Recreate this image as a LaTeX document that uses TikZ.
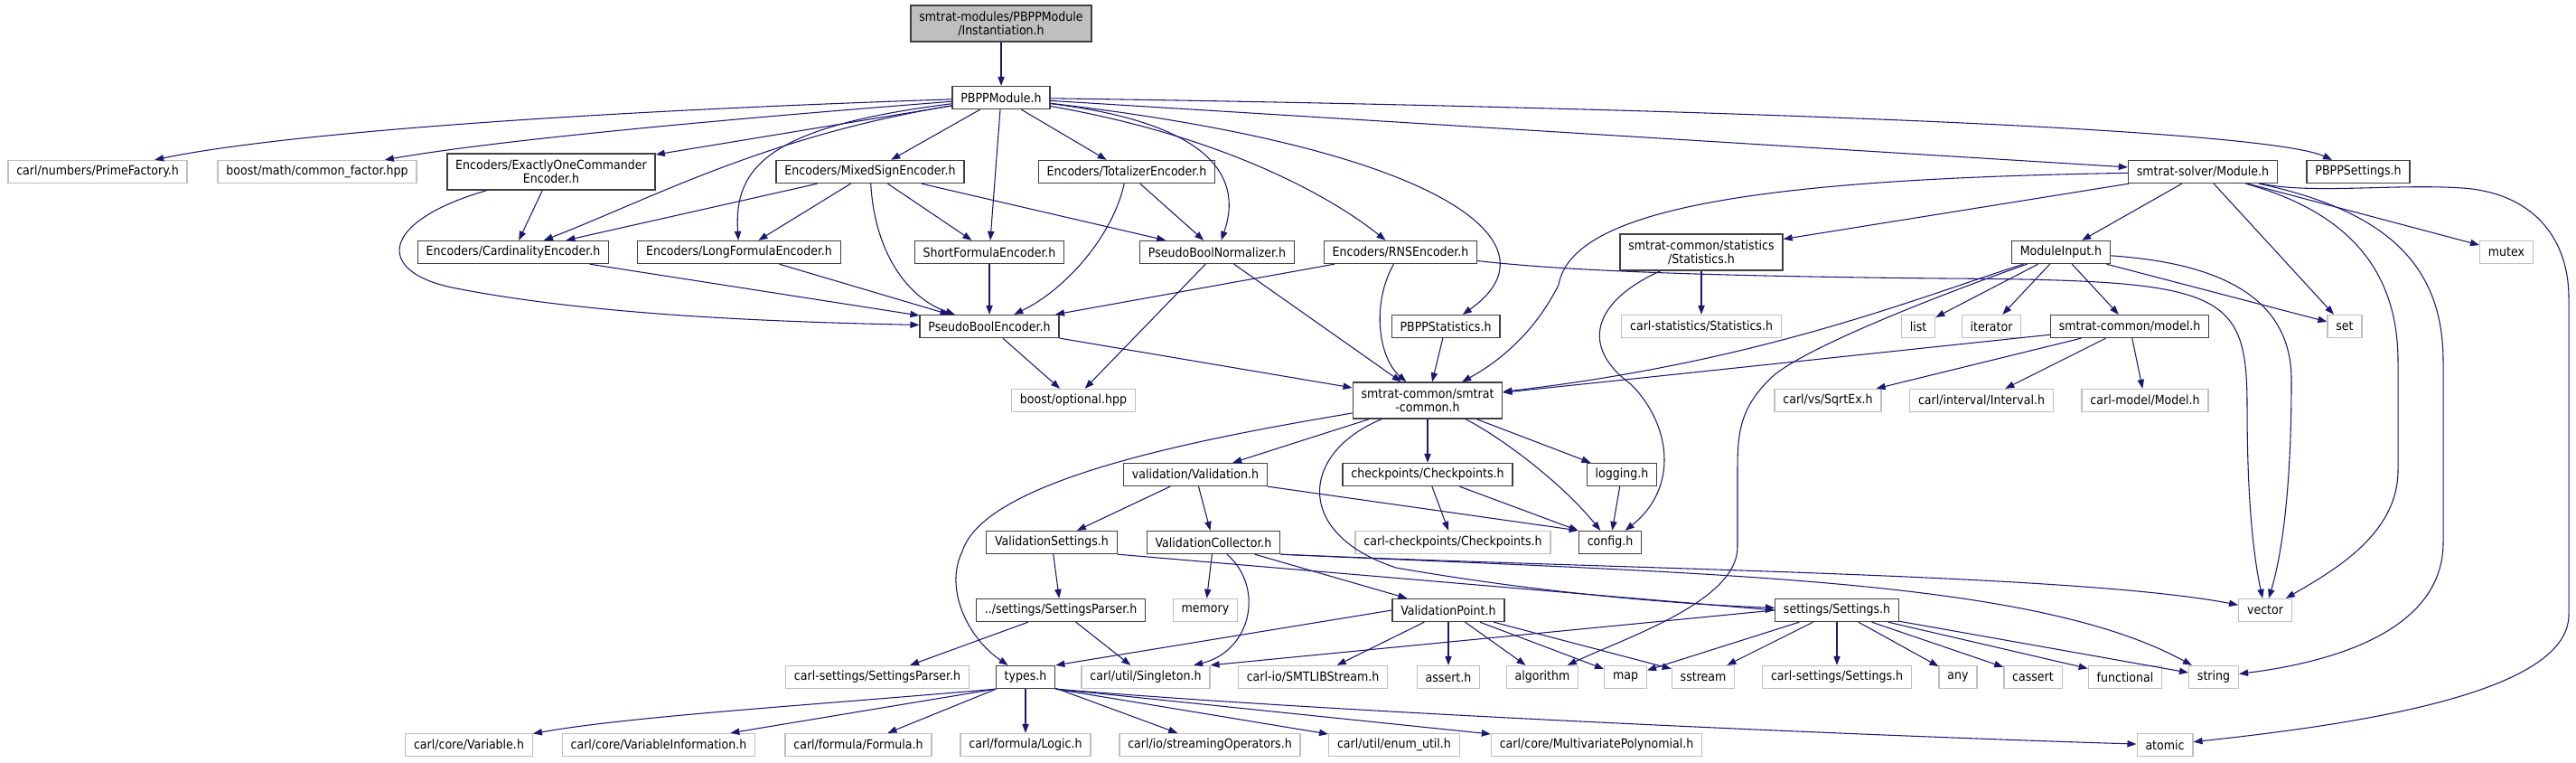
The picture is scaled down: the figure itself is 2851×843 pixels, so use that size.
\documentclass[tikz,border=0pt]{standalone}
\usepackage{fontspec}
\setmainfont{DejaVu Sans Condensed}
\usepackage{tikz}
\usetikzlibrary{arrows.meta}
\definecolor{edgeblue}{RGB}{25, 25, 112}
\definecolor{filedark}{RGB}{64, 64, 64}
\definecolor{filelight}{RGB}{191, 191, 191}
\definecolor{rootgray}{RGB}{191, 191, 191}

\begin{document}
\begin{tikzpicture}[
    x=0.75pt, y=-0.75pt,
    file/.style={draw=filedark, line width=1pt, fill=white, align=center, inner xsep=7pt, inner ysep=2pt, minimum height=18.75pt, font=\fontsize{10.5}{11.25}\selectfont},
    sysfile/.style={file, draw=filelight},
    rootfile/.style={file, fill=rootgray},
    twoline/.style={minimum height=30pt},
    inc/.style={-{Triangle[length=7.5pt, width=5.5pt]}, draw=edgeblue, line width=0.8pt},
]
\useasboundingbox (0,0) rectangle (2851,843);

% Root and module header
\node[rootfile, twoline] (inst) at (1108, 26) {smtrat-modules/PBPPModule\\/Instantiation.h};
\node[file] (pbpp) at (1108, 108) {PBPPModule.h};

% Row 1
\node[sysfile] (prime) at (108, 190) {carl/numbers/PrimeFactory.h};
\node[sysfile] (gcd) at (351, 190) {boost/math/common\_factor.hpp};
\node[file, twoline] (exone) at (610, 190) {Encoders/ExactlyOneCommander\\Encoder.h};
\node[file] (mixed) at (963, 190) {Encoders/MixedSignEncoder.h};
\node[file] (total) at (1247, 190) {Encoders/TotalizerEncoder.h};
\node[file] (module) at (2438, 190) {smtrat-solver/Module.h};
\node[file] (pbppset) at (2610, 190) {PBPPSettings.h};

% Row 2
\node[file] (card) at (568, 279) {Encoders/CardinalityEncoder.h};
\node[file] (longf) at (818, 279) {Encoders/LongFormulaEncoder.h};
\node[file] (shortf) at (1095, 279) {ShortFormulaEncoder.h};
\node[file] (norm) at (1347, 279) {PseudoBoolNormalizer.h};
\node[file] (rns) at (1550, 279) {Encoders/RNSEncoder.h};
\node[file, twoline] (stats) at (1883, 279) {smtrat-common/statistics\\/Statistics.h};
\node[file] (minput) at (2281, 279) {ModuleInput.h};
\node[sysfile] (mutex) at (2774, 279) {mutex};

% Row 3
\node[file] (pbenc) at (1095, 361) {PseudoBoolEncoder.h};
\node[file] (pbstat) at (1600, 361) {PBPPStatistics.h};
\node[sysfile] (carlstat) at (1883, 361) {carl-statistics/Statistics.h};
\node[sysfile] (list) at (2123, 361) {list};
\node[sysfile] (iter) at (2204, 361) {iterator};
\node[file] (model) at (2357, 361) {smtrat-common/model.h};
\node[sysfile] (set) at (2595, 361) {set};

% Row 4
\node[sysfile] (optional) at (1188, 443) {boost/optional.hpp};
\node[file, twoline] (common) at (1580, 443) {smtrat-common/smtrat\\-common.h};
\node[sysfile] (sqrtex) at (2023, 443) {carl/vs/SqrtEx.h};
\node[sysfile] (interval) at (2193, 443) {carl/interval/Interval.h};
\node[sysfile] (carlmodel) at (2374, 443) {carl-model/Model.h};

% Row 5
\node[file] (valid) at (1323, 525) {validation/Validation.h};
\node[file] (ckpt) at (1580, 525) {checkpoints/Checkpoints.h};
\node[file] (logging) at (1795, 525) {logging.h};

% Row 6
\node[file] (vsettings) at (1164, 600) {ValidationSettings.h};
\node[file] (vcoll) at (1343, 600) {ValidationCollector.h};
\node[sysfile] (carlckpt) at (1608, 600) {carl-checkpoints/Checkpoints.h};
\node[file] (config) at (1782, 600) {config.h};

% Row 7
\node[file] (sparser) at (1174, 675) {../settings/SettingsParser.h};
\node[sysfile] (memory) at (1334, 675) {memory};
\node[file] (vpoint) at (1603, 675) {ValidationPoint.h};
\node[file] (settings) at (2033, 675) {settings/Settings.h};
\node[sysfile] (vector) at (2507, 675) {vector};

% Row 8
\node[sysfile] (carlsparser) at (971, 749) {carl-settings/SettingsParser.h};
\node[file] (types) at (1135, 749) {types.h};
\node[sysfile] (singleton) at (1268, 749) {carl/util/Singleton.h};
\node[sysfile] (smtlib) at (1453, 749) {carl-io/SMTLIBStream.h};
\node[sysfile] (assert) at (1603, 749) {assert.h};
\node[sysfile] (algorithm) at (1707, 749) {algorithm};
\node[sysfile] (map) at (1799, 749) {map};
\node[sysfile] (sstream) at (1885, 749) {sstream};
\node[sysfile] (carlset) at (2033, 749) {carl-settings/Settings.h};
\node[sysfile] (any) at (2167, 749) {any};
\node[sysfile] (cassert) at (2250, 749) {cassert};
\node[sysfile] (functional) at (2352, 749) {functional};
\node[sysfile] (string) at (2450, 749) {string};

% Row 9
\node[sysfile] (variable) at (519, 824) {carl/core/Variable.h};
\node[sysfile] (varinfo) at (729, 824) {carl/core/VariableInformation.h};
\node[sysfile] (formula) at (950, 824) {carl/formula/Formula.h};
\node[sysfile] (logic) at (1135, 824) {carl/formula/Logic.h};
\node[sysfile] (streamops) at (1339, 824) {carl/io/streamingOperators.h};
\node[sysfile] (enumutil) at (1543, 824) {carl/util/enum\_util.h};
\node[sysfile] (mvpoly) at (1767, 824) {carl/core/MultivariatePolynomial.h};
\node[sysfile] (atomic) at (2396, 824) {atomic};

% Includes of the root
\draw[inc] (inst) -- (pbpp);

% Includes of PBPPModule.h
\draw[inc] (pbpp) .. controls (600,125) and (300,150) .. (prime);
\draw[inc] (pbpp) .. controls (800,132) and (550,155) .. (gcd);
\draw[inc] (pbpp) -- (exone);
\draw[inc] (pbpp) .. controls (850,150) and (720,220) .. (card);
\draw[inc] (pbpp) .. controls (850,140) and (812,185) .. (longf);
\draw[inc] (pbpp) -- (mixed);
\draw[inc] (pbpp) -- (shortf);
\draw[inc] (pbpp) -- (total);
\draw[inc] (pbpp) .. controls (1330,135) and (1378,190) .. (norm);
\draw[inc] (pbpp) .. controls (1350,150) and (1470,215) .. (rns);
\draw[inc] (pbpp) .. controls (1600,165) and (1730,270) .. (pbstat);
\draw[inc] (pbpp) -- (module);
\draw[inc] (pbpp) .. controls (1800,118) and (2500,140) .. (pbppset);

% Encoders
\draw[inc] (exone) -- (card);
\draw[inc] (exone) .. controls (420,245) and (415,300) .. (500,318) .. controls (650,348) and (850,356) .. (pbenc);
\draw[inc] (mixed) -- (card);
\draw[inc] (mixed) -- (longf);
\draw[inc] (mixed) .. controls (968,280) and (1005,330) .. (pbenc);
\draw[inc] (mixed) -- (shortf);
\draw[inc] (mixed) -- (norm);
\draw[inc] (total) .. controls (1232,260) and (1180,320) .. (pbenc);
\draw[inc] (total) -- (norm);
\draw[inc] (card) -- (pbenc);
\draw[inc] (longf) -- (pbenc);
\draw[inc] (shortf) -- (pbenc);
\draw[inc] (norm) -- (optional);
\draw[inc] (norm) -- (common);
\draw[inc] (rns) -- (pbenc);
\draw[inc] (rns) .. controls (1518,335) and (1525,395) .. (common);
\draw[inc] (rns) .. controls (1720,298) and (1850,305) .. (2150,308) .. controls (2460,310) and (2487,320) .. (2487,450) .. controls (2487,560) and (2495,620) .. (vector);
\draw[inc] (pbenc) -- (optional);
\draw[inc] (pbenc) -- (common);
\draw[inc] (pbstat) -- (common);
\draw[inc] (stats) -- (carlstat);
\draw[inc] (stats) .. controls (1760,335) and (1750,385) .. (1805,425) .. controls (1850,470) and (1858,540) .. (config);

% Includes of smtrat-solver/Module.h
\draw[inc] (module) .. controls (1950,198) and (1740,230) .. (1725,315) .. controls (1695,375) and (1650,405) .. (common);
\draw[inc] (module) -- (stats);
\draw[inc] (module) -- (minput);
\draw[inc] (module) -- (set);
\draw[inc] (module) -- (mutex);
\draw[inc] (module) .. controls (2600,235) and (2654,300) .. (2654,400) -- (2654,520) .. controls (2654,590) and (2585,630) .. (vector);
\draw[inc] (module) .. controls (2650,235) and (2704,300) .. (2704,400) -- (2704,600) .. controls (2704,690) and (2600,730) .. (string);
\draw[inc] (module) .. controls (2560,215) and (2650,203) .. (2725,208) .. controls (2800,213) and (2843,260) .. (2843,330) -- (2843,680) .. controls (2843,765) and (2620,800) .. (atomic);

% Includes of ModuleInput.h and model.h
\draw[inc] (minput) -- (list);
\draw[inc] (minput) -- (iter);
\draw[inc] (minput) -- (model);
\draw[inc] (minput) -- (set);
\draw[inc] (minput) .. controls (2440,290) and (2536,320) .. (2536,420) .. controls (2536,560) and (2522,625) .. (vector);
\draw[inc] (minput) .. controls (2120,330) and (1950,400) .. (common);
\draw[inc] (minput) .. controls (2150,325) and (1995,385) .. (1960,418) .. controls (1925,452) and (1923,480) .. (1923,520) -- (1923,605) .. controls (1923,665) and (1800,705) .. (algorithm);
\draw[inc] (model) -- (common);
\draw[inc] (model) -- (sqrtex);
\draw[inc] (model) -- (interval);
\draw[inc] (model) -- (carlmodel);

% Includes of smtrat-common.h
\draw[inc] (common) -- (valid);
\draw[inc] (common) .. controls (1330,485) and (1090,530) .. (1065,610) .. controls (1045,650) and (1070,705) .. (types);
\draw[inc] (common) -- (ckpt);
\draw[inc] (common) -- (logging);
\draw[inc] (common) .. controls (1655,480) and (1725,530) .. (config);
\draw[inc] (common) .. controls (1440,500) and (1430,590) .. (1545,628) .. controls (1700,655) and (1850,668) .. (settings);
\draw[inc] (ckpt) -- (carlckpt);
\draw[inc] (ckpt) -- (config);
\draw[inc] (logging) -- (config);

% Validation
\draw[inc] (valid) -- (vsettings);
\draw[inc] (valid) -- (vcoll);
\draw[inc] (valid.south east) -- (config.north west);
\draw[inc] (vsettings) -- (sparser);
\draw[inc] (vsettings.south east) -- (settings.west);
\draw[inc] (vcoll) -- (memory);
\draw[inc] (vcoll) .. controls (1400,650) and (1385,720) .. (singleton);
\draw[inc] (vcoll) -- (vpoint);
\draw[inc] (vcoll.south east) .. controls (1800,630) and (2300,635) .. (vector);
\draw[inc] (vcoll.south east) .. controls (1900,635) and (2250,640) .. (string);
\draw[inc] (sparser) -- (carlsparser);
\draw[inc] (sparser) -- (singleton);
\draw[inc] (vpoint.west) -- (types.north east);
\draw[inc] (vpoint) -- (smtlib);
\draw[inc] (vpoint) -- (assert);
\draw[inc] (vpoint) -- (algorithm);
\draw[inc] (vpoint) -- (map);
\draw[inc] (vpoint) -- (sstream);

% Includes of settings/Settings.h
\draw[inc] (settings.west) -- (singleton.north east);
\draw[inc] (settings) -- (map);
\draw[inc] (settings) -- (sstream);
\draw[inc] (settings) -- (carlset);
\draw[inc] (settings) -- (any);
\draw[inc] (settings) -- (cassert);
\draw[inc] (settings) -- (functional);
\draw[inc] (settings) -- (string);

% Includes of types.h
\draw[inc] (types.south west) .. controls (900,780) and (700,792) .. (variable);
\draw[inc] (types.south west) -- (varinfo);
\draw[inc] (types) -- (formula);
\draw[inc] (types) -- (logic);
\draw[inc] (types) -- (streamops);
\draw[inc] (types.south east) -- (enumutil);
\draw[inc] (types.south east) -- (mvpoly);
\draw[inc] (types.south east) .. controls (1500,790) and (2100,815) .. (atomic);
\end{tikzpicture}
\end{document}
